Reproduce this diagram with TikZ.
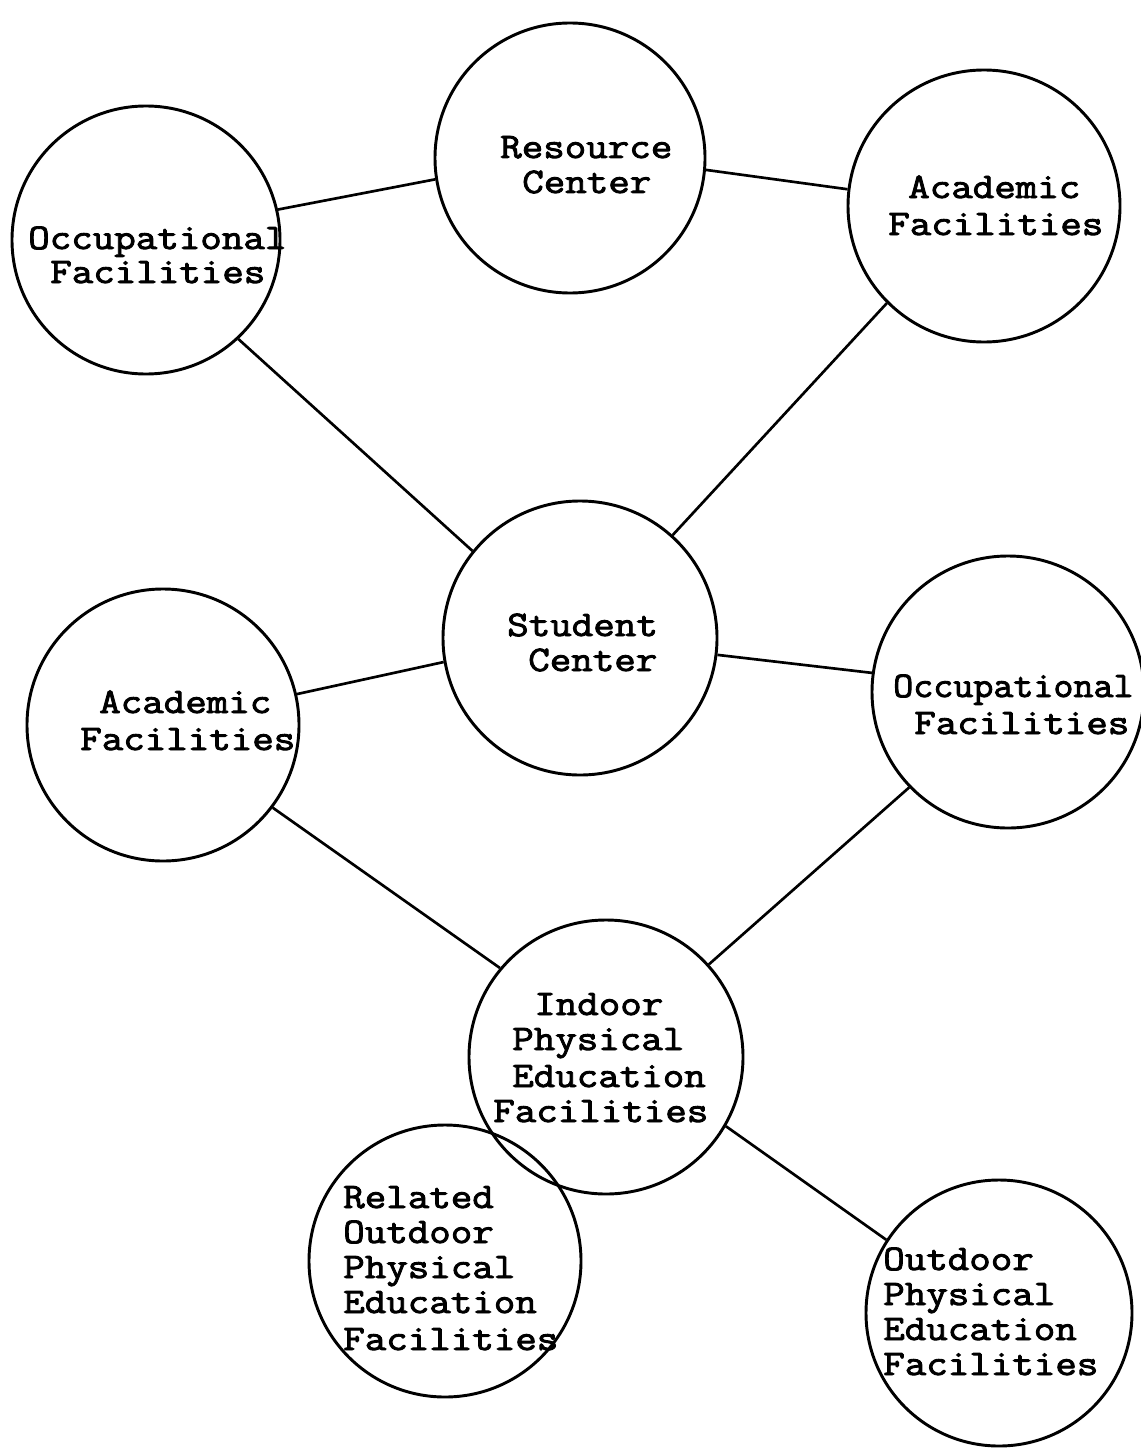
\documentclass[tikz,border=0pt]{standalone}
\usepackage{fontspec}
\newfontfamily\typer{Latin Modern Mono}[FakeBold=2.5, FakeStretch=1.16]
\newfontfamily\typernarrow{Latin Modern Mono}[FakeBold=2.5, FakeStretch=1.08]
\begin{document}
\begin{tikzpicture}[x=0.75pt,y=-0.75pt,
  hub/.style={circle, draw, line width=2.2pt, inner sep=0pt, minimum size={#1*1.5pt}},
  link/.style={line width=2pt},
  word/.style={anchor=base west, inner sep=0pt, font=\typer\fontsize{27}{30}\selectfont},
  narrowword/.style={word, font=\typernarrow\fontsize{27}{30}\selectfont}]
\fill[white] (0,0) rectangle (1141,1452);
\useasboundingbox (0,0) rectangle (1141,1452);

% facilities as circles
\node[hub=135] (res)  at (570,158)  {};
\node[hub=134] (occA) at (146,240)  {};
\node[hub=136] (acR)  at (984,206)  {};
\node[hub=137] (stu)  at (580,638)  {};
\node[hub=136] (acL)  at (163,725)  {};
\node[hub=136] (occR) at (1008,692) {};
\node[hub=137] (ind)  at (606,1057) {};
\node[hub=136] (rel)  at (445,1261) {};
\node[hub=133] (out)  at (999,1313) {};

% connections
\draw[link] (occA.13.6)   -- (res.-171.6);
\draw[link] (res.-5)      -- (acR.173.3);
\draw[link] (occA.-47.4)  -- (stu.141.5);
\draw[link] (acR.225.6)   -- (stu.48.2);
\draw[link] (stu.190.5)   -- (acL.13.6);
\draw[link] (stu.-7.1)    -- (occR.172.8);
\draw[link] (acL.-37.8)   -- (ind.140.7);
\draw[link] (occR.224.7)  -- (ind.42);
\draw[link] (ind.-30.9)   -- (out.147);

% labels, one line at a time
\node[word] (res-1) at (500,158) {Resource};
\node[word] (res-2) at (522,193) {Center};

\node[word] (acR-1) at (908,198) {Academic};
\node[word] (acR-2) at (888,235) {Facilities};

\node[word] (occA-1) at (28,249) {Occupational};
\node[word] (occA-2) at (50,283) {Facilities};

\node[word] (stu-1) at (507,636) {Student};
\node[word] (stu-2) at (528,671) {Center};

\node[word] (acL-1) at (99,713) {Academic};
\node[word] (acL-2) at (80,750) {Facilities};

\node[narrowword] (occR-1) at (893,697) {Occupational};
\node[word] (occR-2) at (914,734) {Facilities};

\node[word] (ind-1) at (534,1015) {Indoor};
\node[word] (ind-2) at (512,1050) {Physical};
\node[word] (ind-3) at (512,1087) {Education};
\node[word] (ind-4) at (493,1122) {Facilities};

\node[word] (rel-1) at (343,1208) {Related};
\node[word] (rel-2) at (343,1243) {Outdoor};
\node[word] (rel-3) at (343,1278) {Physical};
\node[word] (rel-4) at (343,1313) {Education};
\node[word] (rel-5) at (343,1350) {Facilities};

\node[word] (out-1) at (883,1270) {Outdoor};
\node[word] (out-2) at (883,1305) {Physical};
\node[word] (out-3) at (883,1340) {Education};
\node[word] (out-4) at (883,1375) {Facilities};
\end{tikzpicture}
\end{document}
